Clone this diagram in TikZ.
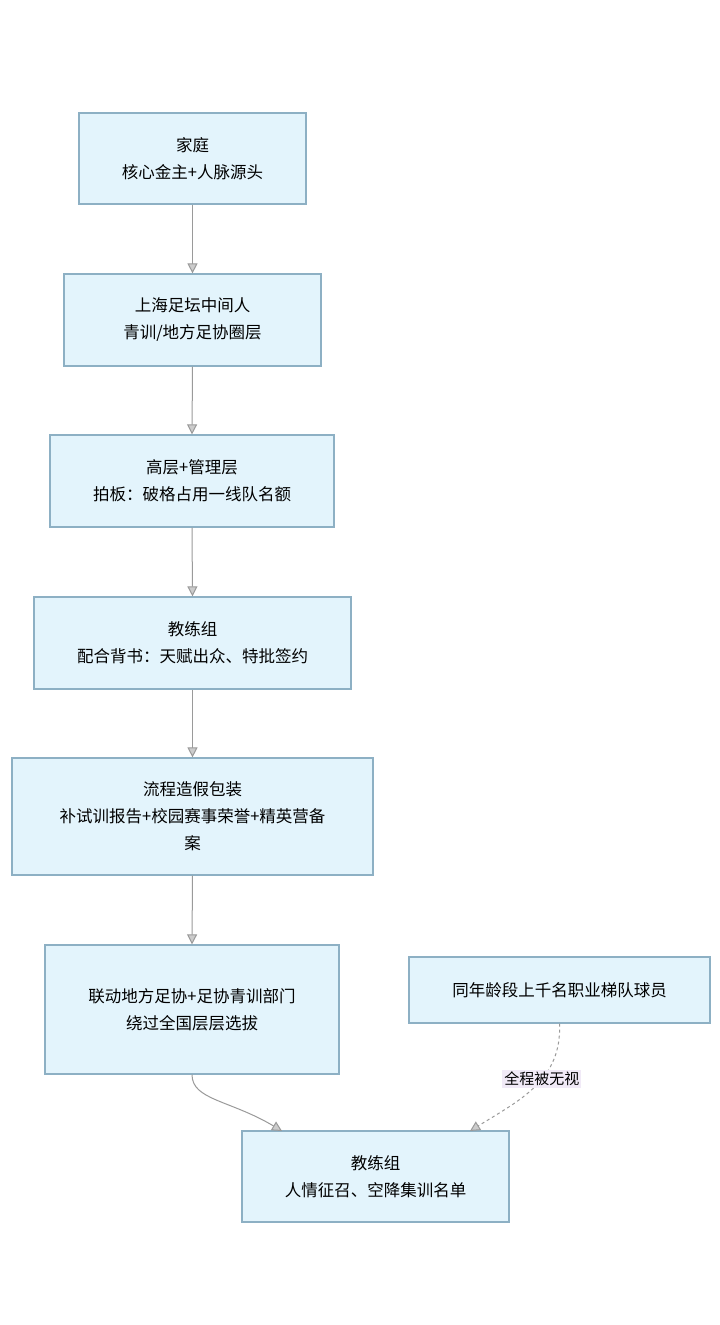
\documentclass[tikz,border=0pt]{standalone}
\usepackage{fontspec}
\newfontfamily\cjk{Noto Sans CJK SC}
\usetikzlibrary{arrows.meta}
\definecolor{boxfill}{HTML}{E3F4FC}
\definecolor{boxline}{HTML}{8DB0C4}
\definecolor{arr}{HTML}{9A9A9A}
\definecolor{lblfill}{HTML}{F1EAF7}
\begin{document}
\begin{tikzpicture}[x=1pt,y=-1pt,
  box/.style={draw=boxline,line width=1.2pt,fill=boxfill,align=center,font=\cjk\fontsize{16.5}{27}\selectfont,inner sep=0pt},
  link/.style={draw=arr,line width=1pt,-{Triangle[open,length=10pt,width=10pt,fill=arr!50]}}]
\useasboundingbox (0,0) rectangle (720,1325);
\fill[white] (0,0) rectangle (720,1325);
\node[box,minimum width=227pt,minimum height=91pt] (b1) at (192.5,158.5) {家庭\\核心金主+人脉源头};
\node[box,minimum width=257pt,minimum height=92pt] (b2) at (192.5,320) {上海足坛中间人\\青训/地方足协圈层};
\node[box,minimum width=284pt,minimum height=92pt] (b3) at (192,481) {高层+管理层\\拍板：破格占用一线队名额};
\node[box,minimum width=317pt,minimum height=92pt] (b4) at (192.5,643) {教练组\\配合背书：天赋出众、特批签约};
\node[box,minimum width=361pt,minimum height=117pt] (b5) at (192.5,816.5) {流程造假包装\\补试训报告+校园赛事荣誉+精英营备\\案};
\node[box,minimum width=294pt,minimum height=129pt] (b6) at (192,1009.5) {联动地方足协+足协青训部门\\绕过全国层层选拔};
\node[box,minimum width=301pt,minimum height=66pt] (b7) at (559.5,990) {同年龄段上千名职业梯队球员};
\node[box,minimum width=267pt,minimum height=91pt] (b8) at (375.5,1176.5) {教练组\\人情征召、空降集训名单};
\draw[link] (b1.south) -- (b2.north);
\draw[link] (b2.south) -- (b3.north);
\draw[link] (b3.south) -- (b4.north);
\draw[link] (b4.south) -- (b5.north);
\draw[link] (b5.south) -- (b6.north);
\coordinate (t8a) at (282,1131);
\coordinate (t8b) at (470,1131);
\draw[link] (b6.south) .. controls (192,1100) and (230,1100) .. (t8a);
\draw[link,dashed,dash pattern=on 3pt off 3pt] (b7.south) .. controls (562,1080) and (520,1100) .. (t8b)
  node[pos=0.42,fill=lblfill,font=\cjk\fontsize{15}{17}\selectfont,inner sep=2pt] {全程被无视};
\end{tikzpicture}
\end{document}
